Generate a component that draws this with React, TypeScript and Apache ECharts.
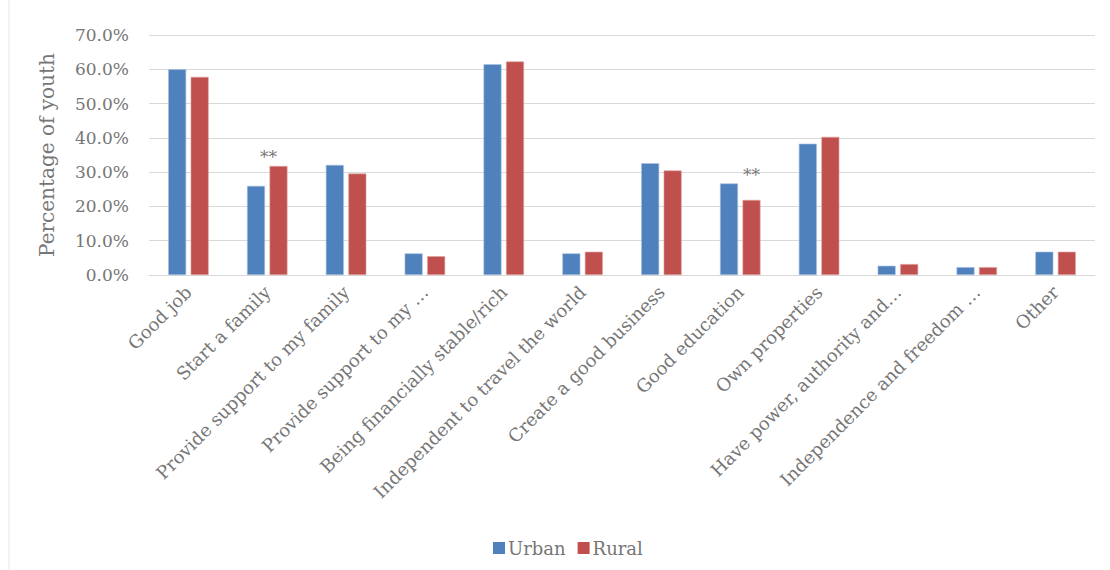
import React, { useEffect, useRef } from "react";
import * as echarts from "echarts";

const categories = [
  "Good job",
  "Start a family",
  "Provide support to my family",
  "Provide support to my …",
  "Being financially stable/rich",
  "Independent to travel the world",
  "Create a good business",
  "Good education",
  "Own properties",
  "Have power, authority and…",
  "Independence and freedom …",
  "Other",
];
const urban = [60.0, 26.0, 32.1, 6.3, 61.5, 6.3, 32.6, 26.7, 38.3, 2.7, 2.3, 6.8];
const rural = [57.8, 31.8, 29.6, 5.5, 62.3, 6.8, 30.5, 21.9, 40.3, 3.2, 2.3, 6.8];
const yTicks = [0, 10, 20, 30, 40, 50, 60, 70];
const annotationCats = ["Start a family", "Good education"];
const annotationValues = [34.5, 29.2];
const annotationText = "**";

const FONT = "DejaVu Serif";
const TEXT = "#767676";

export default function App() {
  const ref = useRef<HTMLDivElement>(null);
  useEffect(() => {
    if (!ref.current) return;
    const chart = echarts.init(ref.current, undefined, { renderer: "svg" });
    chart.setOption({
      animation: false,
      backgroundColor: "#ffffff",
      textStyle: { fontFamily: FONT },
      grid: { left: 149, right: 15, top: 35, bottom: 295, containLabel: false },
      legend: {
        left: 488,
        top: 534,
        itemWidth: 12,
        itemHeight: 12,
        itemGap: 12,
        itemStyle: { borderWidth: 0 },
        icon: "rect",
        data: ["Urban", "Rural"],
        textStyle: { fontFamily: FONT, fontSize: 18, color: TEXT, padding: [0, 0, 0, -2] },
      },
      xAxis: {
        type: "category",
        data: categories,
        axisLine: { lineStyle: { color: "#d9d9d9", width: 1 } },
        axisTick: { show: false },
        axisLabel: {
          rotate: 45,
          interval: 0,
          margin: 14,
          fontFamily: FONT,
          fontSize: 18,
          color: TEXT,
        },
      },
      yAxis: {
        type: "value",
        min: yTicks[0],
        max: yTicks[yTicks.length - 1],
        interval: 10,
        name: "Percentage of youth",
        nameLocation: "middle",
        nameGap: 92,
        nameTextStyle: { fontFamily: FONT, fontSize: 20, color: TEXT },
        axisLine: { show: false },
        axisTick: { show: false },
        splitLine: { lineStyle: { color: "#d9d9d9", width: 1 } },
        axisLabel: {
          margin: 20,
          fontFamily: FONT,
          fontSize: 17,
          color: TEXT,
          formatter: (v: number) => v.toFixed(1) + "%",
        },
      },
      series: [
        {
          name: "Urban",
          type: "bar",
          data: urban,
          barWidth: 18,
          barGap: "25%",
          itemStyle: { color: "#4F81BD", borderColor: "#a9c1e0", borderWidth: 0.6 },
        },
        {
          name: "Rural",
          type: "bar",
          data: rural,
          barWidth: 18,
          barGap: "25%",
          itemStyle: { color: "#C0504D", borderColor: "#e0a8a6", borderWidth: 0.6 },
          markPoint: {
            symbol: "circle",
            symbolSize: 0,
            silent: true,
            data: annotationCats.map((c, i) => ({
              coord: [c, annotationValues[i]],
              label: {
                show: true,
                formatter: annotationText,
                color: TEXT,
                fontFamily: FONT,
                fontSize: 17,
                offset: i === 0 ? [-10, 0] : [0, 0],
              },
            })),
          },
        },
      ],
      graphic: [
        {
          type: "line",
          shape: { x1: 9, y1: 0, x2: 9, y2: 570 },
          style: { stroke: "#e6e6e6", lineWidth: 1 },
        },
      ],
    });
    return () => chart.dispose();
  }, []);
  return (
    <div
      ref={ref}
      style={{ position: "absolute", left: 0, top: 0, width: 1110, height: 570 }}
    />
  );
}
